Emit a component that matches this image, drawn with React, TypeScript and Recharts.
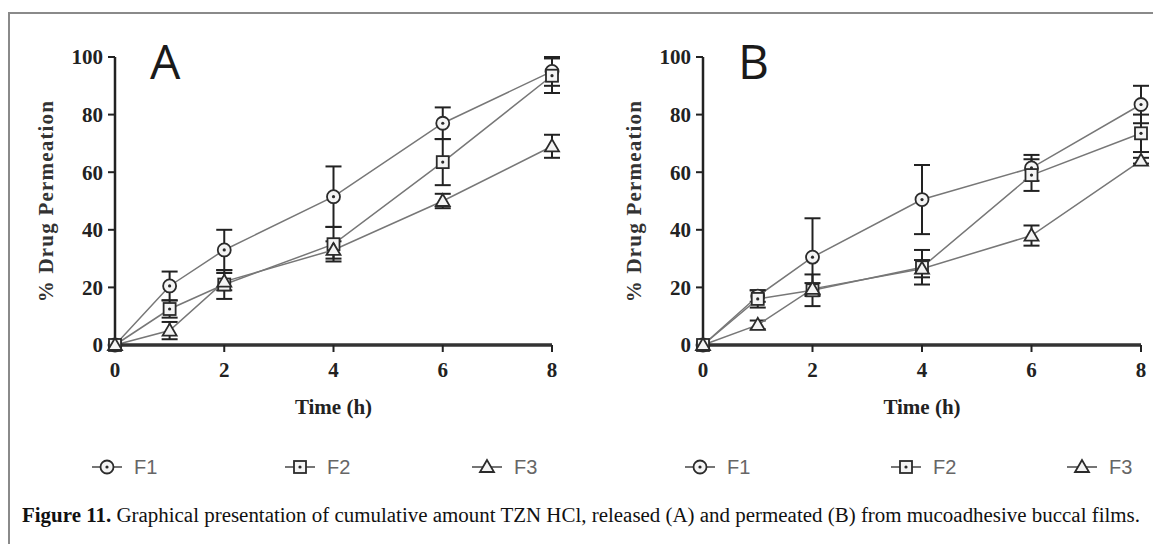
import React from 'react';
import { LineChart, Line, XAxis, YAxis, ErrorBar } from 'recharts';

// time points (h)
const times = [0, 1, 2, 4, 6, 8];

// panel A: released
const aF1 = [0, 20.5, 33, 51.5, 77, 95];
const aF1Err = [0, 5, 7, 10.5, 5.5, 5];
const aF2 = [0, 12.5, 21, 35, 63.5, 93.5];
const aF2Err = [0, 3, 5, 6, 8, 6];
const aF3 = [0, 5, 22, 33, 50, 69];
const aF3Err = [0, 3, 3, 3, 2.5, 4];

// panel B: permeated
const bF1 = [0, 17, 30.5, 50.5, 61.5, 83.5];
const bF1Err = [0, 2, 13.5, 12, 4.5, 6.5];
const bF2 = [0, 16, 19, 27, 59, 73.5];
const bF2Err = [0, 3, 5.5, 6, 5.5, 6.5];
const bF3 = [0, 7, 19.5, 26.5, 38, 64];
const bF3Err = [0, 1.5, 2, 3, 3.5, 1];

const xTicks = [0, 2, 4, 6, 8];
const yTicks = [0, 20, 40, 60, 80, 100];
const seriesNames = ['F1', 'F2', 'F3'];

const buildRows = (f1, e1, f2, e2, f3, e3) =>
  times.map((t, i) => ({ t, f1: f1[i], e1: e1[i], f2: f2[i], e2: e2[i], f3: f3[i], e3: e3[i] }));

const dataA = buildRows(aF1, aF1Err, aF2, aF2Err, aF3, aF3Err);
const dataB = buildRows(bF1, bF1Err, bF2, bF2Err, bF3, bF3Err);

const serif = '"Liberation Serif", "DejaVu Serif", serif';
const MK = '#2b2b2b';

function Marker({ cx, cy, shape }: { cx: number; cy: number; shape: string }) {
  if (cx == null || cy == null) return null;
  if (shape === 'circle') {
    return (
      <g>
        <circle cx={cx} cy={cy} r={6.5} fill="#f4f4f4" stroke={MK} strokeWidth={1.8} />
        <circle cx={cx} cy={cy} r={1.6} fill={MK} />
      </g>
    );
  }
  if (shape === 'square') {
    return (
      <g>
        <rect x={cx - 6} y={cy - 6} width={12} height={12} fill="#f4f4f4" stroke={MK} strokeWidth={1.8} />
        <circle cx={cx} cy={cy} r={1.6} fill={MK} />
      </g>
    );
  }
  return (
    <polygon
      points={`${cx},${cy - 7} ${cx - 7},${cy + 5} ${cx + 7},${cy + 5}`}
      fill="#f4f4f4"
      stroke={MK}
      strokeWidth={1.8}
    />
  );
}

const shapes = ['circle', 'square', 'triangle'];

function Panel({ data, letter, left, width, marginLeft, marginRight }) {
  return (
    <div style={{ position: 'absolute', left, top: 0 }}>
      <LineChart
        width={width}
        height={440}
        data={data}
        margin={{ top: 57, right: marginRight, left: marginLeft, bottom: 65 }}
      >
        <XAxis
          dataKey="t"
          type="number"
          domain={[0, 8]}
          ticks={xTicks}
          tickSize={7}
          tickMargin={10}
          axisLine={{ stroke: '#333', strokeWidth: 3.5 }}
          tickLine={{ stroke: '#222', strokeWidth: 2 }}
          tick={{ fontFamily: serif, fontWeight: 'bold', fontSize: 21, fill: '#222' }}
          height={30}
          label={{
            value: 'Time (h)',
            position: 'bottom',
            offset: 24,
            style: { fontFamily: serif, fontWeight: 'bold', fontSize: 21, fill: '#222' },
          }}
        />
        <YAxis
          type="number"
          domain={[0, 100]}
          ticks={yTicks}
          width={45}
          tickSize={7}
          tickMargin={5}
          axisLine={{ stroke: '#222', strokeWidth: 2.5 }}
          tickLine={{ stroke: '#222', strokeWidth: 2 }}
          tick={{ fontFamily: serif, fontWeight: 'bold', fontSize: 21, fill: '#222' }}
          label={{
            value: '% Drug Permeation',
            angle: -90,
            position: 'left',
            offset: 24,
            style: { textAnchor: 'middle', fontFamily: serif, fontWeight: 'bold', fontSize: 21, fill: '#333', letterSpacing: 1.2 },
          }}
        />
        {['f1', 'f2', 'f3'].map((key, i) => (
          <Line
            key={key}
            dataKey={key}
            name={seriesNames[i]}
            stroke="#777"
            strokeWidth={1.5}
            isAnimationActive={false}
            dot={(p: any) => <Marker key={`${key}-${p.index}`} cx={p.cx} cy={p.cy} shape={shapes[i]} />}
          >
            <ErrorBar
              dataKey={`e${i + 1}`}
              direction="y"
              width={8}
              stroke="#222"
              strokeWidth={2}
              isAnimationActive={false}
            />
          </Line>
        ))}
      </LineChart>
      <div
        style={{
          position: 'absolute',
          left: marginLeft + 80,
          top: 37,
          fontFamily: '"Open Sans", "DejaVu Sans", sans-serif',
          fontSize: 48,
          lineHeight: '48px',
          color: '#1a1a1a',
        }}
      >
        {letter}
      </div>
    </div>
  );
}

function LegendItem({ x, shape, name }) {
  return (
    <div style={{ position: 'absolute', left: x, top: 452, height: 30, display: 'flex', alignItems: 'center' }}>
      <svg width={34} height={24}>
        <line x1={2} y1={12} x2={32} y2={12} stroke="#666" strokeWidth={1.8} />
        <Marker cx={17} cy={12} shape={shape} />
      </svg>
      <span
        style={{
          marginLeft: 10,
          fontFamily: '"Liberation Sans Narrow", "Liberation Sans", sans-serif',
          fontSize: 20,
          color: '#666',
        }}
      >
        {name}
      </span>
    </div>
  );
}

const legendXA = [90, 283, 470];
const legendXB = [683, 889, 1065];

export default function App() {
  return (
    <div style={{ position: 'absolute', left: 0, top: 0, width: 1153, height: 544, background: '#fff', overflow: 'hidden' }}>
      <div style={{ position: 'absolute', left: 8, top: 12, width: 1145, height: 1.5, background: '#8a8a8a' }} />
      <div style={{ position: 'absolute', left: 8, top: 12, width: 1.5, height: 532, background: '#8a8a8a' }} />
      <Panel data={dataA} letter="A" left={0} width={590} marginLeft={70} marginRight={38} />
      <Panel data={dataB} letter="B" left={590} width={563} marginLeft={68} marginRight={12} />
      {shapes.map((s, i) => (
        <LegendItem key={`a${i}`} x={legendXA[i]} shape={s} name={seriesNames[i]} />
      ))}
      {shapes.map((s, i) => (
        <LegendItem key={`b${i}`} x={legendXB[i]} shape={s} name={seriesNames[i]} />
      ))}
      <svg style={{ position: 'absolute', left: 0, top: 498 }} width={1153} height={36}>
        <text
          x={22}
          y={24}
          textLength={1118}
          lengthAdjust="spacingAndGlyphs"
          style={{ fontFamily: serif, fontSize: 20, fill: '#111' }}
        >
          <tspan fontWeight="bold">Figure 11.</tspan>
          <tspan> Graphical presentation of cumulative amount TZN HCl, released (A) and permeated (B) from mucoadhesive buccal films.</tspan>
        </text>
      </svg>
    </div>
  );
}
